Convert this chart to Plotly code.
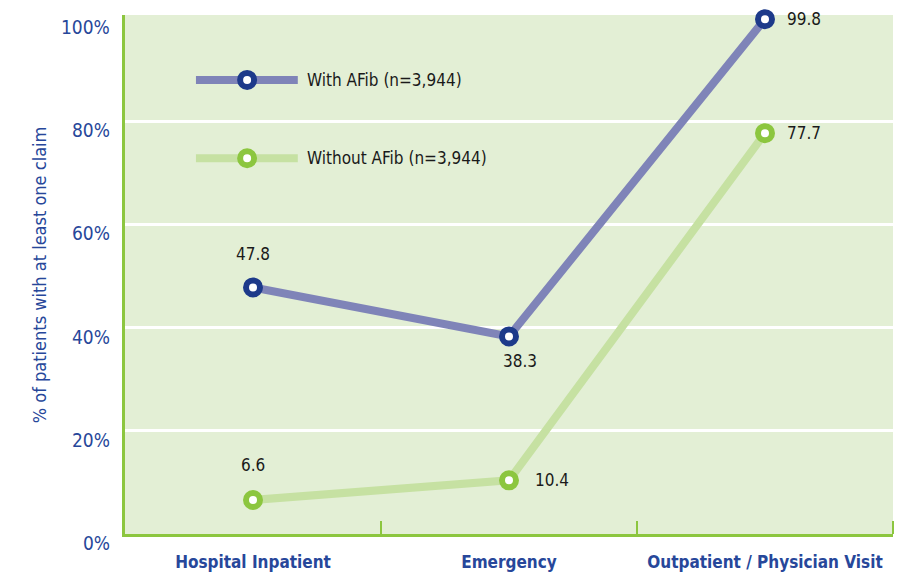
import plotly.graph_objects as go

categories = ["Hospital Inpatient", "Emergency", "Outpatient / Physician Visit"]
with_afib = [47.8, 38.3, 99.8]
without_afib = [6.6, 10.4, 77.7]
series_names = ["With AFib (n=3,944)", "Without AFib (n=3,944)"]
y_tick_vals = [0, 20, 40, 60, 80, 100]
y_tick_text = ["0%", "20%", "40%", "60%", "80%", "100%"]
y_title = "% of patients with at least one claim"

FONT = "DejaVu Sans Condensed, Liberation Sans Narrow, sans-serif"
BLUE_TXT = "#27479a"
LINE1 = "#7f84b8"
MARK1 = "#1d3a8a"
LINE2 = "#c6e1a2"
MARK2 = "#8cc63f"
BG = "#e3efd5"
GREEN = "#8cc63f"

fig = go.Figure()

def add_series(vals, lc, mc):
    fig.add_trace(go.Scatter(
        x=categories, y=vals, mode="lines+markers",
        line=dict(color=lc, width=8),
        marker=dict(size=14, color="white", line=dict(color=mc, width=6)),
        showlegend=False, hoverinfo="skip", cliponaxis=False,
    ))

add_series(with_afib, LINE1, MARK1)
add_series(without_afib, LINE2, MARK2)

# Legend drawn on an overlay axis (0..1 of the plot area)
leg_y = [0.875, 0.724]
for name, yy, lc, mc in zip(series_names, leg_y, [LINE1, LINE2], [MARK1, MARK2]):
    fig.add_trace(go.Scatter(
        x=[0.0924, 0.225], y=[yy, yy], mode="lines", line=dict(color=lc, width=8),
        xaxis="x2", yaxis="y2", showlegend=False, hoverinfo="skip"))
    fig.add_trace(go.Scatter(
        x=[0.159], y=[yy], mode="markers",
        marker=dict(size=14, color="white", line=dict(color=mc, width=6)),
        xaxis="x2", yaxis="y2", showlegend=False, hoverinfo="skip"))
    fig.add_annotation(x=0.234, y=yy, xref="x2", yref="y2", text=name,
                       showarrow=False, xanchor="left", yanchor="middle",
                       font=dict(family=FONT, size=17, color="#1a1a1a"))

# Data labels
label_font = dict(family=FONT, size=17, color="#1a1a1a")
with_offsets = [(0, 33, "center"), (11, -25, "center"), (20, 0, "left")]
without_offsets = [(0, 35, "center"), (24, 0, "left"), (20, 0, "left")]
for vals, offs in [(with_afib, with_offsets), (without_afib, without_offsets)]:
    for c, v, (dx, dy, xa) in zip(categories, vals, offs):
        fig.add_annotation(x=c, y=v, text=f"{v:.1f}", showarrow=False,
                           xanchor=xa, yanchor="middle", xshift=dx, yshift=dy,
                           font=label_font)

# Y tick labels
for v, t in zip(y_tick_vals, y_tick_text):
    fig.add_annotation(x=0, y=v, xref="paper", yref="y", text=t, showarrow=False,
                       xanchor="right", yanchor="middle", xshift=-13, yshift=-9,
                       font=dict(family=FONT, size=19, color=BLUE_TXT))

fig.add_annotation(x=-0.111, y=0.5, xref="paper", yref="paper", text=y_title,
                   textangle=-90, showarrow=False, xanchor="center", yanchor="middle",
                   font=dict(family=FONT, size=18, color=BLUE_TXT))

# tick at the right end of the category axis
fig.add_shape(type="line", xref="paper", x0=1, x1=1, yref="paper",
              ysizemode="pixel", yanchor=0, y0=0, y1=13,
              line=dict(color=GREEN, width=2))

fig.update_layout(
    width=900, height=569,
    margin=dict(l=117, r=15, t=7, b=43),
    paper_bgcolor="white", plot_bgcolor=BG,
    xaxis=dict(type="category", tickson="boundaries", ticks="inside", ticklen=13,
               tickwidth=2, tickcolor=GREEN, showline=True, linecolor=GREEN,
               linewidth=3, showgrid=False, range=[-0.5, 2.5], tickangle=0,
               automargin=False,
               tickfont=dict(family=FONT, size=17, color=BLUE_TXT, weight="bold"),
               ticklabelstandoff=11),
    yaxis=dict(range=[0, 100.6], tickvals=y_tick_vals[1:5], showticklabels=False,
               showgrid=True, gridcolor="white", gridwidth=3, zeroline=False,
               showline=True, linecolor=GREEN, linewidth=3, ticks="", automargin=False),
    xaxis2=dict(overlaying="x", range=[0, 1], visible=False, anchor="y2"),
    yaxis2=dict(overlaying="y", range=[0, 1], visible=False, anchor="x2"),
)

fig.write_html("out.html")
